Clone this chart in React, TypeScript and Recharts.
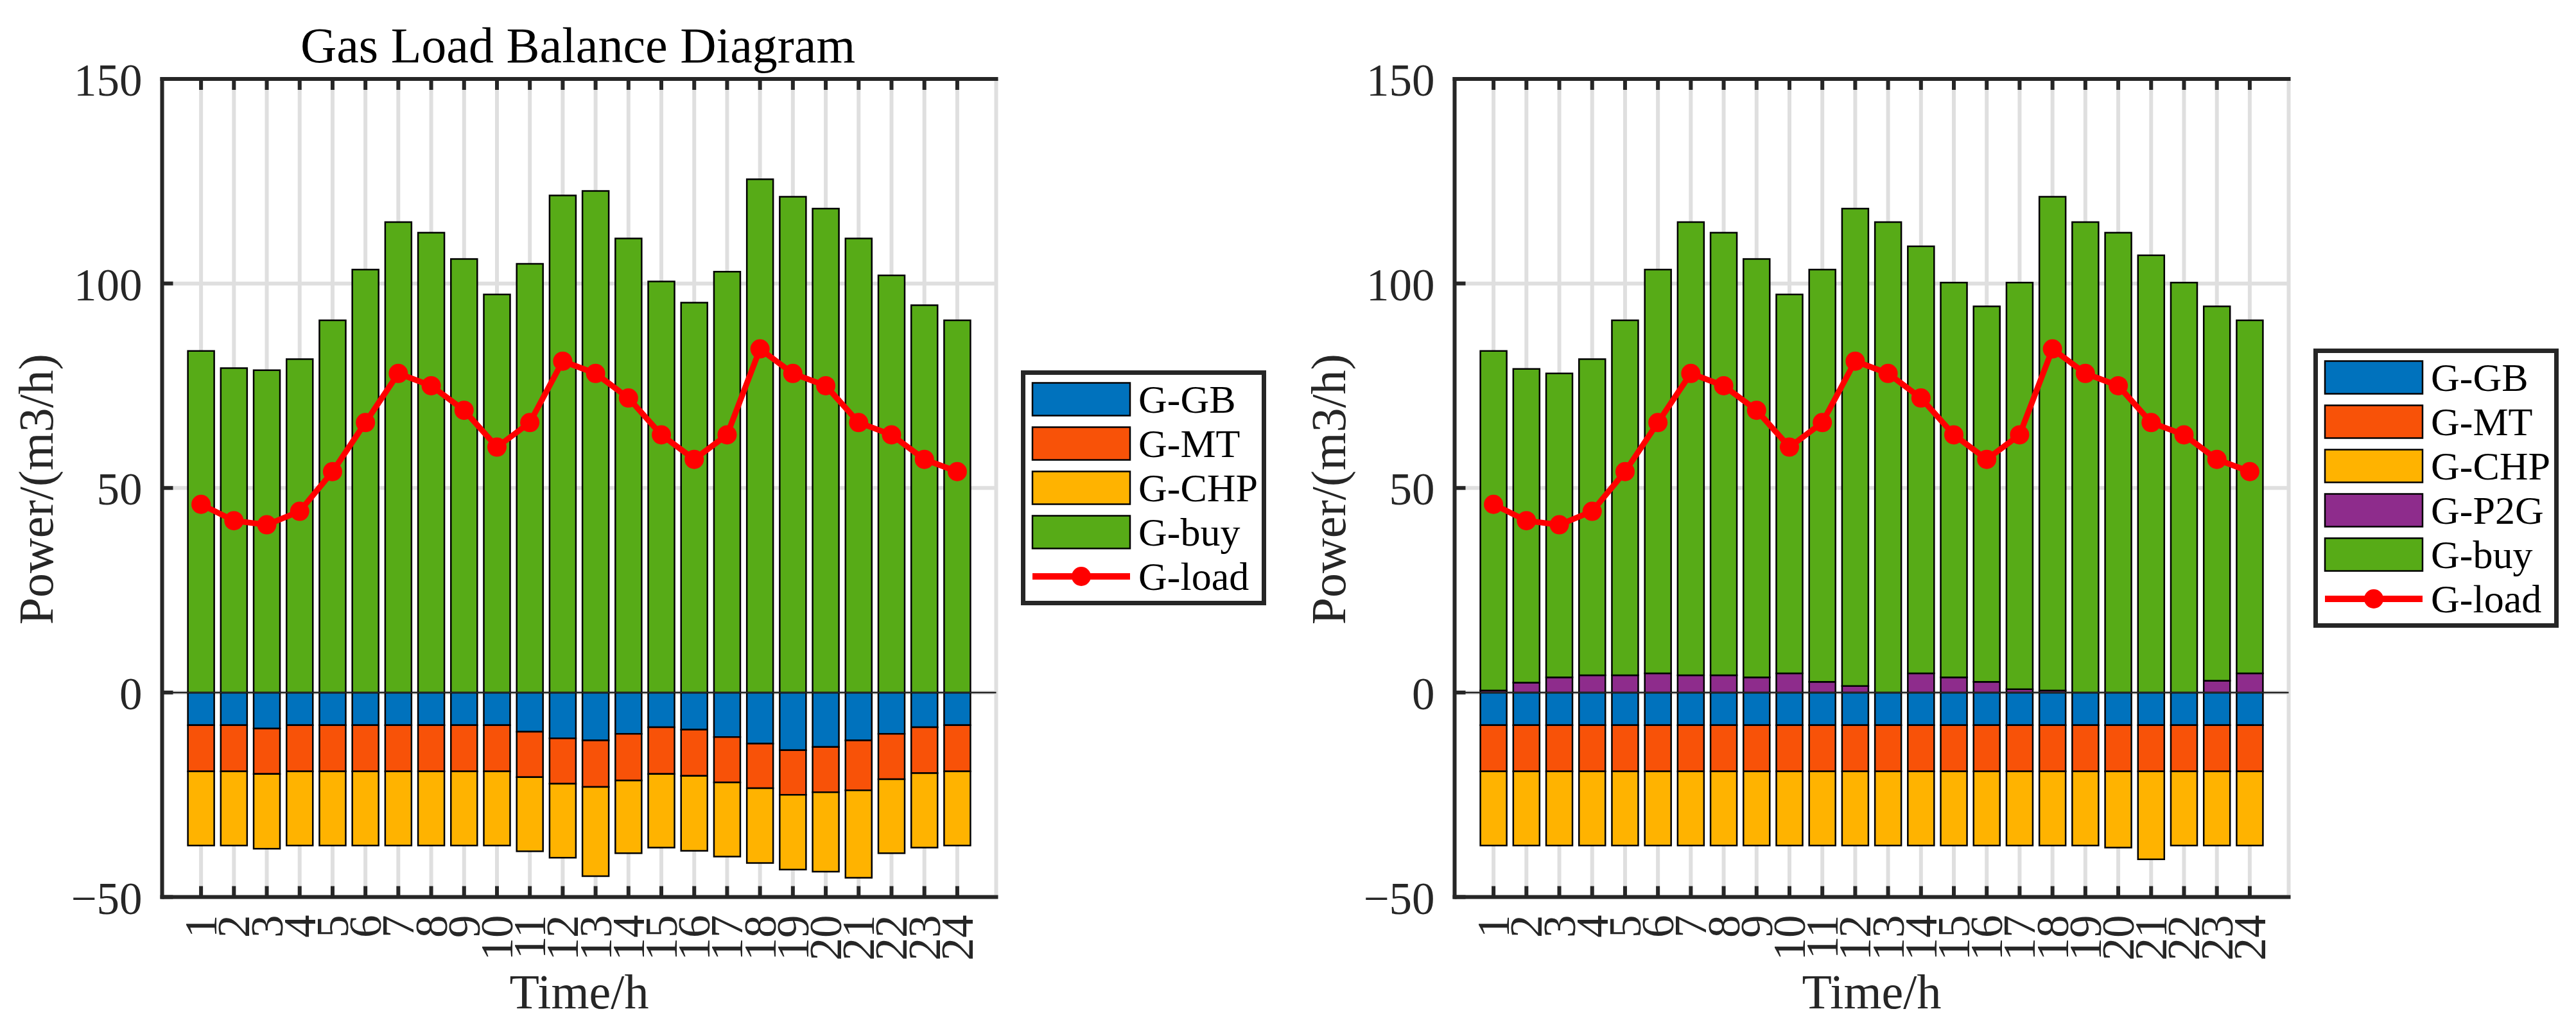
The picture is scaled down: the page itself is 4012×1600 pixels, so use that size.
import React from 'react';
import {
  ComposedChart,
  Bar,
  Line,
  XAxis,
  YAxis,
  CartesianGrid,
  ReferenceLine,
  Legend
} from 'recharts';

const FONT = '"Liberation Serif", "Times New Roman", serif';
const AXIS = '#262626';
const GRID = '#dfdfdf';

const hours = ['1', '2', '3', '4', '5', '6', '7', '8', '9', '10', '11', '12', '13', '14', '15', '16', '17', '18', '19', '20', '21', '22', '23', '24'];
const yTicks = [-50, 0, 50, 100, 150];

// gas load (same in both panels)
const gasLoad = [46, 42, 41, 44.3, 54, 66, 78, 75, 69, 60, 66, 81, 78, 72, 63, 57, 63, 84, 78, 75, 66, 63, 57, 54];

// left panel
const gbLeft = [-8.0, -8.0, -8.8, -8.0, -8.0, -8.0, -8.0, -8.0, -8.0, -8.0, -9.6, -11.2, -11.7, -10.1, -8.5, -9.1, -10.9, -12.5, -14.1, -13.3, -11.7, -10.1, -8.5, -8.0];
const mtLeft = [-11.3, -11.3, -11.1, -11.3, -11.3, -11.3, -11.3, -11.3, -11.3, -11.3, -11.1, -11.1, -11.4, -11.4, -11.4, -11.3, -11.1, -10.9, -10.9, -11.1, -12.2, -11.1, -11.2, -11.3];
const chpLeft = [-18.1, -18.1, -18.3, -18.1, -18.1, -18.1, -18.1, -18.1, -18.1, -18.1, -18.1, -18.1, -21.8, -17.8, -18.0, -18.3, -18.1, -18.3, -18.3, -19.4, -21.4, -18.1, -18.2, -18.1];
const buyLeft = [83.5, 79.3, 78.8, 81.5, 91.0, 103.4, 115.0, 112.4, 106.0, 97.3, 104.8, 121.5, 122.6, 111.0, 100.5, 95.3, 102.9, 125.5, 121.2, 118.3, 111.0, 102.0, 94.7, 91.0];

// right panel
const gbRight = [-8, -8, -8, -8, -8, -8, -8, -8, -8, -8, -8, -8, -8, -8, -8, -8, -8, -8, -8, -8, -8, -8, -8, -8];
const mtRight = [-11.3, -11.3, -11.3, -11.3, -11.3, -11.3, -11.3, -11.3, -11.3, -11.3, -11.3, -11.3, -11.3, -11.3, -11.3, -11.3, -11.3, -11.3, -11.3, -11.3, -11.3, -11.3, -11.3, -11.3];
const chpRight = [-18.1, -18.1, -18.1, -18.1, -18.1, -18.1, -18.1, -18.1, -18.1, -18.1, -18.1, -18.1, -18.1, -18.1, -18.1, -18.1, -18.1, -18.1, -18.1, -18.6, -21.5, -18.1, -18.1, -18.1];
const p2gRight = [0.5, 2.4, 3.7, 4.2, 4.2, 4.7, 4.2, 4.2, 3.7, 4.7, 2.6, 1.6, 0, 4.7, 3.7, 2.6, 0.8, 0.5, 0, 0, 0, 0, 2.9, 4.7];
const buyRight = [83.0, 76.7, 74.3, 77.3, 86.8, 98.7, 110.8, 108.2, 102.3, 92.6, 100.8, 116.7, 115.0, 104.4, 96.5, 91.8, 99.4, 120.7, 115.0, 112.4, 106.9, 100.2, 91.5, 86.3];

const COLORS = {
  gb: '#0072BD',
  mt: '#F85208',
  chp: '#FFB300',
  p2g: '#8E2C8C',
  buy: '#57AB17',
  load: '#FF0000'
};

type Series = { key: string; name: string; color: string; values: number[] };

const leftSeries: Series[] = [
  { key: 'gb', name: 'G-GB', color: COLORS.gb, values: gbLeft },
  { key: 'mt', name: 'G-MT', color: COLORS.mt, values: mtLeft },
  { key: 'chp', name: 'G-CHP', color: COLORS.chp, values: chpLeft },
  { key: 'buy', name: 'G-buy', color: COLORS.buy, values: buyLeft }
];

const rightSeries: Series[] = [
  { key: 'gb', name: 'G-GB', color: COLORS.gb, values: gbRight },
  { key: 'mt', name: 'G-MT', color: COLORS.mt, values: mtRight },
  { key: 'chp', name: 'G-CHP', color: COLORS.chp, values: chpRight },
  { key: 'p2g', name: 'G-P2G', color: COLORS.p2g, values: p2gRight },
  { key: 'buy', name: 'G-buy', color: COLORS.buy, values: buyRight }
];

// panel geometry
const W = 2000;
const H = 1600;
const PLOT_LEFT = 252.5;
const PLOT_RIGHT = 1551.5;
const PLOT_TOP = 123;
const PLOT_BOTTOM = 1397.5;
const TICK_LEN = 17;
const axisLineStyle = { stroke: AXIS, strokeWidth: 6, strokeLinecap: 'square' as const };

const buildRows = (series: Series[]) =>
  hours.map((h, i) => {
    const row: Record<string, any> = { hour: h, load: gasLoad[i] };
    series.forEach((s) => {
      row[s.key] = s.values[i];
    });
    return row;
  });

const BottomTick = (props: any) => {
  const { x, y, payload } = props;
  const ty = y + 28;
  return (
    <g>
      <line x1={x} y1={y} x2={x} y2={y - TICK_LEN} stroke={AXIS} strokeWidth={6} />
      <text
        x={x}
        y={ty}
        transform={`rotate(-90 ${x} ${ty})`}
        textAnchor="end"
        dy={24}
        fontSize={71}
        fontFamily={FONT}
        fill={AXIS}
      >
        {payload.value}
      </text>
    </g>
  );
};

const TopTick = (props: any) => {
  const { x, y } = props;
  return <line x1={x} y1={y} x2={x} y2={y + TICK_LEN} stroke={AXIS} strokeWidth={6} />;
};

const LeftTick = (props: any) => {
  const { x, y, payload } = props;
  const v = payload.value < 0 ? `\u2212${Math.abs(payload.value)}` : `${payload.value}`;
  return (
    <g>
      <line x1={x} y1={y} x2={x + TICK_LEN} y2={y} stroke={AXIS} strokeWidth={6} />
      <text x={x - 31} y={y} dy={26} textAnchor="end" fontSize={71} fontFamily={FONT} fill={AXIS}>
        {v}
      </text>
    </g>
  );
};

const RightTick = (props: any) => {
  const { x, y } = props;
  return <line x1={x} y1={y} x2={x - TICK_LEN} y2={y} stroke={AXIS} strokeWidth={6} />;
};

const LegendBox = ({ series }: { series: Series[] }) => {
  const h = 90 + series.length * 69;
  const loadY = 45 + series.length * 69;
  return (
    <svg width={382} height={h} style={{ display: 'block' }}>
      <rect x={3.5} y={3.5} width={375} height={h - 7} fill="#fff" stroke={AXIS} strokeWidth={7} />
      {series.map((s, i) => {
        const cy = 45 + i * 69;
        return (
          <g key={s.key}>
            <rect x={18} y={cy - 25.5} width={152} height={51} fill={s.color} stroke="#000" strokeWidth={2.5} />
            <text x={183} y={cy} dy={21} fontSize={62} fontFamily={FONT} fill="#000">
              {s.name}
            </text>
          </g>
        );
      })}
      <line x1={18} y1={loadY} x2={170} y2={loadY} stroke={COLORS.load} strokeWidth={10} />
      <circle cx={94} cy={loadY} r={15} fill={COLORS.load} />
      <text x={183} y={loadY} dy={21} fontSize={62} fontFamily={FONT} fill="#000">
        G-load
      </text>
    </svg>
  );
};

const Panel = ({ series, title }: { series: Series[]; title?: string }) => {
  const rows = buildRows(series);
  const legendH = 90 + series.length * 69;
  const midX = (PLOT_LEFT + PLOT_RIGHT) / 2;
  const midY = (PLOT_TOP + PLOT_BOTTOM) / 2;
  return (
    <ComposedChart
      width={W}
      height={H}
      data={rows}
      stackOffset="sign"
      barCategoryGap="10%"
      margin={{ top: 0, right: W - PLOT_RIGHT, bottom: 0, left: 0 }}
    >
      <CartesianGrid stroke={GRID} strokeWidth={6} />
      <XAxis
        dataKey="hour"
        height={H - PLOT_BOTTOM}
        padding={{ left: 35, right: 35 }}
        interval={0}
        tickLine={false}
        tickSize={0}
        tickMargin={0}
        axisLine={axisLineStyle}
        tick={<BottomTick />}
        label={() => (
          <text x={midX} y={1571} textAnchor="middle" fontSize={76} fontFamily={FONT} fill={AXIS}>
            Time/h
          </text>
        )}
      />
      <XAxis
        xAxisId="top"
        orientation="top"
        dataKey="hour"
        height={PLOT_TOP}
        padding={{ left: 35, right: 35 }}
        interval={0}
        tickLine={false}
        tickSize={0}
        tickMargin={0}
        axisLine={axisLineStyle}
        tick={<TopTick />}
        label={() =>
          title ? (
            <text x={midX - 2} y={97} textAnchor="middle" fontSize={78} fontFamily={FONT} fill="#000">
              {title}
            </text>
          ) : null
        }
      />
      <YAxis
        width={PLOT_LEFT}
        domain={[-50, 150]}
        ticks={yTicks}
        interval={0}
        tickLine={false}
        tickSize={0}
        tickMargin={0}
        axisLine={axisLineStyle}
        tick={<LeftTick />}
        label={() => (
          <text
            x={82}
            y={midY + 2}
            transform={`rotate(-90 82 ${midY + 2})`}
            textAnchor="middle"
            fontSize={76}
            fontFamily={FONT}
            fill={AXIS}
          >
            Power/(m3/h)
          </text>
        )}
      />
      <YAxis
        yAxisId="right"
        orientation="right"
        width={0}
        domain={[-50, 150]}
        ticks={yTicks}
        interval={0}
        tickLine={false}
        tickSize={0}
        tickMargin={0}
        axisLine={axisLineStyle}
        tick={<RightTick />}
      />
      {series.map((s) => (
        <Bar
          key={s.key}
          dataKey={s.key}
          name={s.name}
          stackId="gas"
          fill={s.color}
          stroke="#000"
          strokeWidth={2.5}
          isAnimationActive={false}
        />
      ))}
      <ReferenceLine y={0} stroke={AXIS} strokeWidth={2.5} />
      <Line
        type="linear"
        dataKey="load"
        name="G-load"
        stroke={COLORS.load}
        strokeWidth={9}
        dot={{ r: 15, fill: COLORS.load, stroke: COLORS.load, strokeWidth: 0 }}
        activeDot={false}
        isAnimationActive={false}
      />
      {/* centred + middle keeps the legend out of the plot offset */}
      <Legend
        layout="horizontal"
        verticalAlign="middle"
        align="center"
        content={() => <LegendBox series={series} />}
        wrapperStyle={{
          left: PLOT_RIGHT + 38.5,
          right: 'auto',
          top: midY - legendH / 2,
          bottom: 'auto',
          width: 382,
          height: legendH
        }}
      />
    </ComposedChart>
  );
};

export default function App() {
  return (
    <div style={{ position: 'absolute', left: 0, top: 0, width: 4012, height: 1600, background: '#fff' }}>
      <div style={{ position: 'absolute', left: 0, top: 0 }}>
        <Panel series={leftSeries} title="Gas Load Balance Diagram" />
      </div>
      <div style={{ position: 'absolute', left: 2013, top: 0 }}>
        <Panel series={rightSeries} />
      </div>
    </div>
  );
}
